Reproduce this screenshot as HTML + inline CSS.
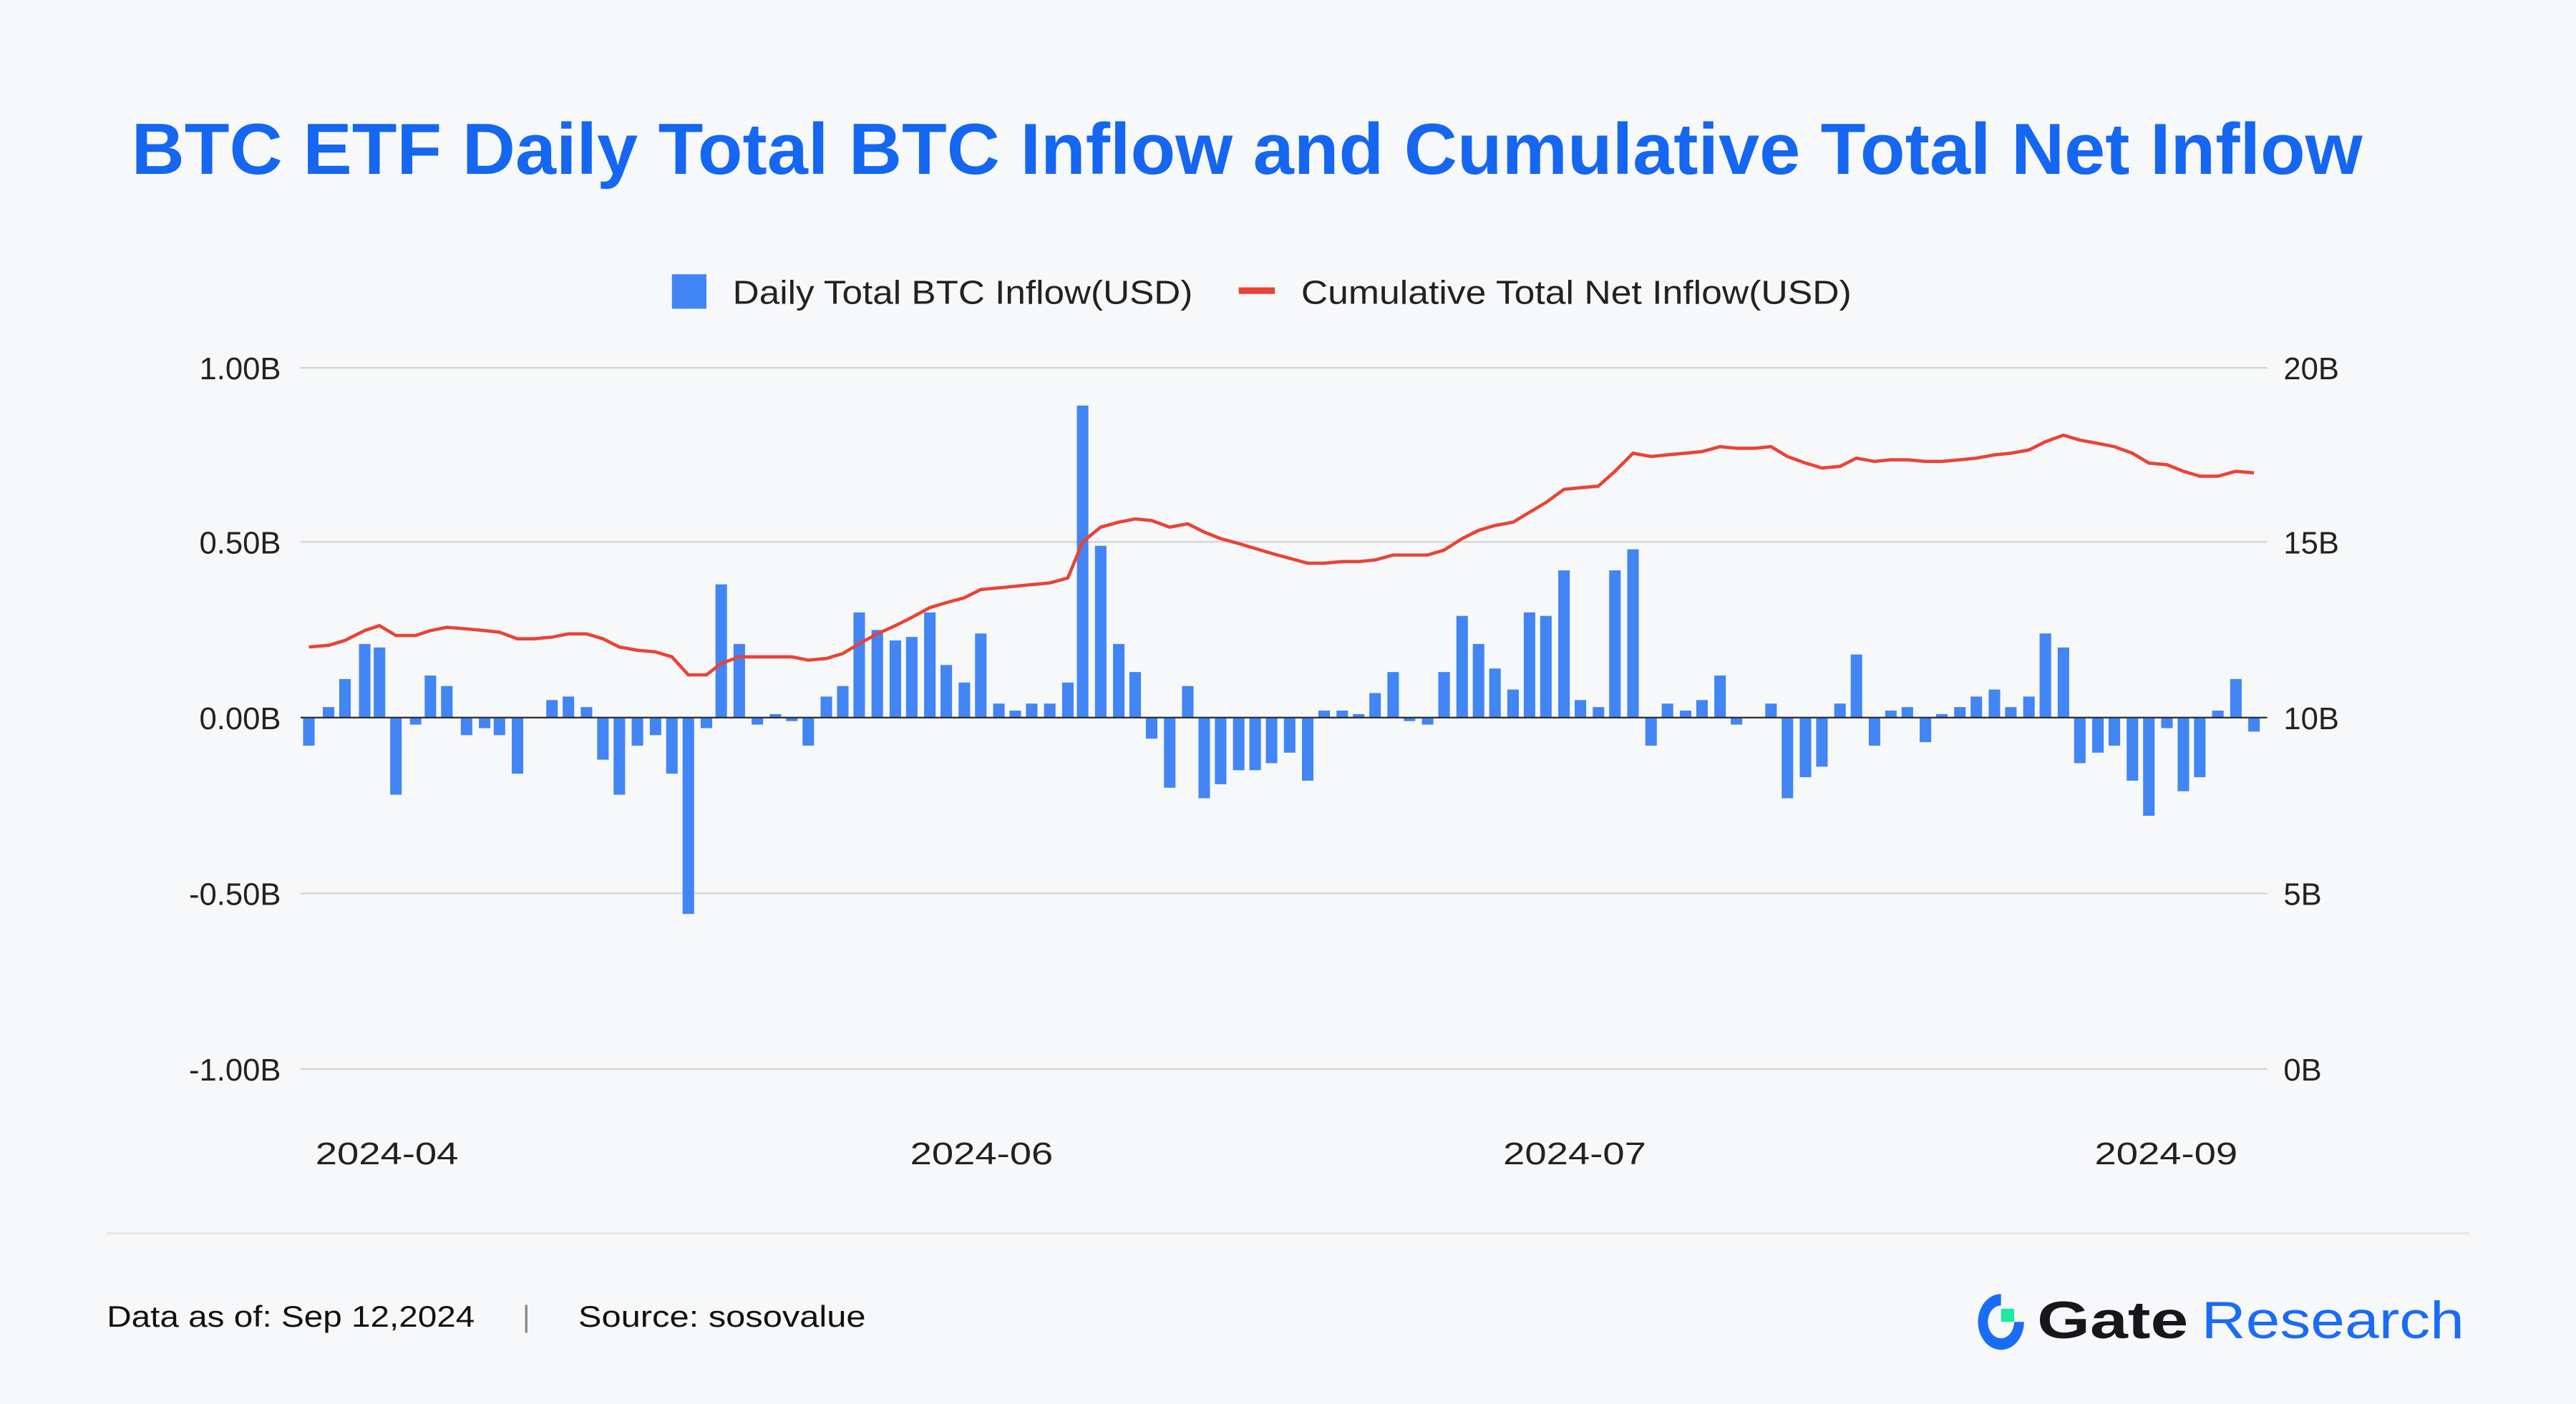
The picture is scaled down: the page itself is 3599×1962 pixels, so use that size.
<!DOCTYPE html>
<html><head><meta charset="utf-8"><style>
html,body{margin:0;padding:0;background:#f7f8fa;}
svg{display:block;font-family:"Liberation Sans",sans-serif;}
</style></head><body>
<svg id="s" width="3599" height="1962" viewBox="0 0 1568 855" preserveAspectRatio="none">
<rect width="1568" height="855" fill="#f7f8fa"/>
<text x="80" y="106" font-size="44" font-weight="bold" fill="#1566f0" textLength="1358" lengthAdjust="spacingAndGlyphs">BTC ETF Daily Total BTC Inflow and Cumulative Total Net Inflow</text>
<rect x="409" y="167" width="21" height="21" fill="#4285f4"/>
<text x="446" y="185" font-size="20" fill="#222" textLength="280" lengthAdjust="spacingAndGlyphs">Daily Total BTC Inflow(USD)</text>
<rect x="754" y="175" width="22" height="4" fill="#ea4335"/>
<text x="792" y="185" font-size="20" fill="#222" textLength="335" lengthAdjust="spacingAndGlyphs">Cumulative Total Net Inflow(USD)</text>
<g stroke="#d3d3d3" stroke-width="1">
<line x1="183" y1="224" x2="1380" y2="224"/><line x1="183" y1="330" x2="1380" y2="330"/>
<line x1="183" y1="544" x2="1380" y2="544"/><line x1="183" y1="651" x2="1380" y2="651"/>
</g>
<g font-size="19" fill="#222" text-anchor="end">
<text x="171" y="231">1.00B</text><text x="171" y="337">0.50B</text><text x="171" y="444">0.00B</text><text x="171" y="551">-0.50B</text><text x="171" y="658">-1.00B</text>
</g>
<g font-size="19" fill="#222">
<text x="1390" y="231">20B</text><text x="1390" y="337">15B</text><text x="1390" y="444">10B</text><text x="1390" y="551">5B</text><text x="1390" y="658">0B</text>
</g>
<g font-size="19" fill="#222">
<text x="192" y="709" textLength="87" lengthAdjust="spacingAndGlyphs">2024-04</text><text x="554" y="709" textLength="87" lengthAdjust="spacingAndGlyphs">2024-06</text><text x="915" y="709" textLength="87" lengthAdjust="spacingAndGlyphs">2024-07</text><text x="1275" y="709" textLength="87" lengthAdjust="spacingAndGlyphs">2024-09</text>
</g>
<g id="bars" fill="#4285f4"></g>
<line x1="183" y1="437" x2="1380" y2="437" stroke="#333" stroke-width="1"/>
<polyline id="ln" fill="none" stroke="#ea4335" stroke-width="2" points=""/>
<line x1="65" y1="751" x2="1503" y2="751" stroke="#e3e3e3" stroke-width="1"/>
<text x="65" y="808" font-size="18" fill="#111" textLength="224" lengthAdjust="spacingAndGlyphs">Data as of: Sep 12,2024</text>
<text x="318" y="808" font-size="18" fill="#888">|</text>
<text x="352" y="808" font-size="18" fill="#111" textLength="175" lengthAdjust="spacingAndGlyphs">Source: sosovalue</text>
<g>
<path d="M1218 788 A14 17 0 1 0 1232 805 L1226 805 A8 10 0 1 1 1218 795 Z" fill="#1a6cf5"/>
<rect x="1218" y="797" width="8" height="8" fill="#1de9a0"/>
<text x="1240" y="815" font-size="32" font-weight="bold" fill="#16161c" textLength="92" lengthAdjust="spacingAndGlyphs">Gate</text>
<text x="1340" y="815" font-size="32" fill="#1a6cf5" textLength="160" lengthAdjust="spacingAndGlyphs">Research</text>
</g>
</svg>
<script>
var b=[[188,-.08],[200,.03],[210,.11],[222,.21],[231,.2],[241,-.22],[253,-.02],[262,.12],[272,.09],[284,-.05],[295,-.03],[304,-.05],[315,-.16],[325,0],[336,.05],[346,.06],[357,.03],[367,-.12],[377,-.22],[388,-.08],[399,-.05],[409,-.16],[419,-.56],[430,-.03],[439,.38],[450,.21],[461,-.02],[472,.01],[482,-.01],[492,-.08],[503,.06],[513,.09],[523,.3],[534,.25],[545,.22],[555,.23],[566,.3],[576,.15],[587,.1],[597,.24],[608,.04],[618,.02],[628,.04],[639,.04],[650,.1],[659,.89],[670,.49],[681,.21],[691,.13],[701,-.06],[712,-.2],[723,.09],[733,-.23],[743,-.19],[754,-.15],[764,-.15],[774,-.13],[785,-.1],[796,-.18],[806,.02],[817,.02],[827,.01],[837,.07],[848,.13],[858,-.01],[869,-.02],[879,.13],[890,.29],[900,.21],[910,.14],[921,.08],[931,.3],[941,.29],[952,.42],[962,.05],[973,.03],[983,.42],[994,.48],[1005,-.08],[1015,.04],[1026,.02],[1036,.05],[1047,.12],[1057,-.02],[1068,0],[1078,.04],[1088,-.23],[1099,-.17],[1109,-.14],[1120,.04],[1130,.18],[1141,-.08],[1151,.02],[1161,.03],[1172,-.07],[1182,.01],[1193,.03],[1203,.06],[1214,.08],[1224,.03],[1235,.06],[1245,.24],[1256,.2],[1266,-.13],[1277,-.1],[1287,-.08],[1298,-.18],[1308,-.28],[1319,-.03],[1329,-.21],[1339,-.17],[1350,.02],[1361,.11],[1372,-.04]];
var L=[394,393,390,384,381,387,387,384,382,383,384,385,389,389,388,386,386,389,394,396,397,400,411,411,404,400,400,400,400,402,401,398,392,386,381,376,370,367,364,359,358,357,356,355,352,330,321,318,316,317,321,319,324,328,331,334,337,340,343,343,342,342,341,338,338,338,335,328,323,320,318,312,306,298,297,296,287,276,278,277,276,275,272,273,273,272,278,282,285,284,279,281,280,280,281,281,280,279,277,276,274,269,265,268,270,272,276,282,283,287,290,290,287,288];
var g=document.getElementById('bars'),h='',p=[];
b.forEach(function(d,i){var v=d[1]*213.5;if(v!=0){var y=v>0?437-v:437;h+='<rect x="'+(d[0]-3.5)+'" y="'+y+'" width="7" height="'+Math.abs(v)+'"/>';}p.push(d[0]+','+L[i]);});
g.innerHTML=h;document.getElementById('ln').setAttribute('points',p.join(' '));
</script>
</body></html>
